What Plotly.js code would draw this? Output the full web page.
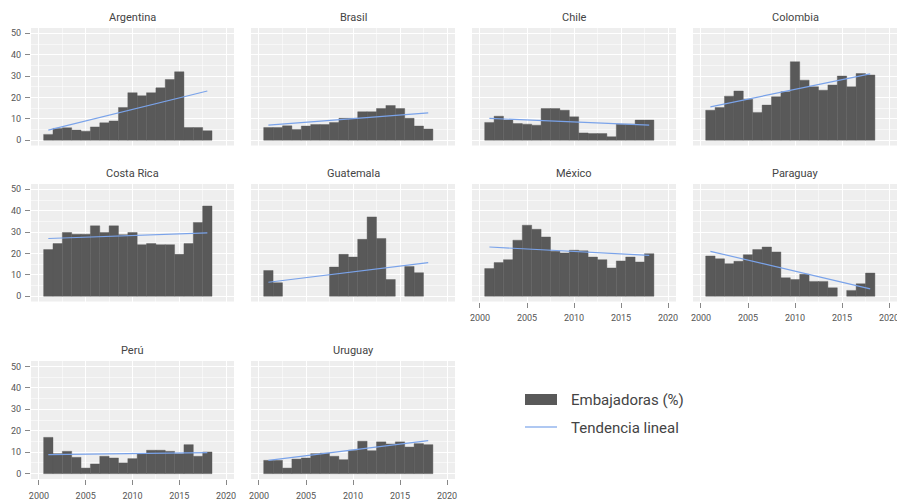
<!DOCTYPE html>
<html><head><meta charset="utf-8">
<script src="https://cdn.plot.ly/plotly-3.0.1.min.js"></script>
<style>html,body{margin:0;padding:0;background:#fff}#chart{width:897px;height:504px}</style>
</head><body><div id="chart"></div>
<script>
const years = [2001,2002,2003,2004,2005,2006,2007,2008,2009,2010,2011,2012,2013,2014,2015,2016,2017,2018];
const countries = ['Argentina','Brasil','Chile','Colombia','Costa Rica','Guatemala','México','Paraguay','Perú','Uruguay'];

const argentina = [2.7,5.5,5.8,4.7,4.2,6.2,8.1,9.0,15.3,22.2,20.8,22.2,24.5,28.4,32.0,5.9,5.9,4.4];
const brasil    = [5.9,5.9,6.7,5.0,6.6,7.3,7.3,8.3,10.2,10.2,13.3,13.3,14.8,16.2,14.8,10.2,6.6,5.2];
const chile     = [8.3,11.2,9.4,7.8,7.5,7.0,14.8,14.8,14.0,10.9,3.4,3.1,3.1,1.6,7.5,7.5,9.4,9.4];
const colombia  = [14.0,15.3,20.6,23.0,19.2,13.0,16.4,20.3,22.7,36.7,28.1,25.0,23.4,25.8,30.0,25.0,31.2,30.5];
const costaRica = [21.8,24.6,29.8,29.0,29.0,32.9,29.8,32.9,28.8,29.8,24.1,24.6,24.1,24.1,19.6,24.6,34.5,42.2];
const guatemala = [12.0,6.3,null,null,null,null,null,13.6,19.6,18.3,26.6,37.1,27.0,7.8,null,13.9,11.0,null];
const mexico    = [12.9,15.7,17.1,26.2,33.2,31.3,27.7,21.0,20.2,21.5,21.2,18.3,17.1,13.2,16.5,18.3,16.0,19.9];
const paraguay  = [18.8,17.5,15.2,16.3,19.4,21.8,23.0,20.7,8.6,7.8,10.2,6.9,6.9,3.9,null,2.7,5.8,10.8];
const peru      = [16.9,9.3,10.4,7.6,2.6,4.5,8.1,7.3,5.0,7.0,9.3,10.9,10.9,10.4,9.3,13.5,8.1,10.1];
const uruguay   = [6.2,6.2,2.6,6.8,7.3,9.3,9.6,8.1,6.5,10.9,15.1,10.7,14.8,13.8,14.8,12.4,14.0,13.5];

const trendYears = [2001, 2018];
const trendArgentina = [4.7, 23.0];
const trendBrasil    = [7.0, 12.8];
const trendChile     = [10.2, 7.0];
const trendColombia  = [15.6, 31.0];
const trendCostaRica = [27.0, 29.6];
const trendGuatemala = [6.5, 15.7];
const trendMexico    = [23.0, 19.1];
const trendParaguay  = [21.0, 3.4];
const trendPeru      = [8.9, 9.8];
const trendUruguay   = [6.2, 15.4];

const xTickVals = [2000, 2005, 2010, 2015, 2020];
const xTickText = ['2000', '2005', '2010', '2015', '2020'];
const yTickVals = [0, 10, 20, 30, 40, 50];
const yTickText = ['0', '10', '20', '30', '40', '50'];
const legendLabels = ['Embajadoras (%)', 'Tendencia lineal'];

const series = [argentina, brasil, chile, colombia, costaRica, guatemala, mexico, paraguay, peru, uruguay];
const trends = [trendArgentina, trendBrasil, trendChile, trendColombia, trendCostaRica, trendGuatemala, trendMexico, trendParaguay, trendPeru, trendUruguay];

const W = 897, H = 504;
const colX = [[31, 234], [251, 455], [472, 676], [693, 897]];
const rowY = [[28, 145.5], [184, 301.5], [361, 479]];
const barColor = '#595959';
const trendColor = '#7aa3ea';
const tickFont = {family: 'Roboto, sans-serif', size: 9, color: '#555'};

const data = [];
const layout = {
  width: W, height: H,
  margin: {l: 0, r: 0, t: 0, b: 0},
  paper_bgcolor: '#ffffff',
  plot_bgcolor: '#eeeeee',
  bargap: 0,
  showlegend: false,
  annotations: [],
  shapes: []
};

countries.forEach((name, i) => {
  const col = i % 4, row = Math.floor(i / 4);
  const sfx = i === 0 ? '' : String(i + 1);
  const xa = 'x' + sfx, ya = 'y' + sfx;
  data.push({
    type: 'bar', x: years, y: series[i], xaxis: xa, yaxis: ya,
    width: 1, marker: {color: barColor, line: {color: barColor, width: 0.4}},
    hoverinfo: 'x+y', name: legendLabels[0]
  });
  data.push({
    type: 'scatter', mode: 'lines', x: trendYears, y: trends[i], xaxis: xa, yaxis: ya,
    line: {color: trendColor, width: 1.2}, hoverinfo: 'skip', name: legendLabels[1]
  });
  const showX = (i >= 6);
  const showY = (col === 0);
  layout['xaxis' + sfx] = {
    domain: [colX[col][0] / W, colX[col][1] / W],
    anchor: ya,
    range: [1999.15, 2020.85],
    tickvals: xTickVals, ticktext: xTickText,
    showticklabels: showX,
    ticklabeloverflow: 'allow',
    ticks: showX ? 'outside' : '', ticklen: 5, tickcolor: '#888', tickwidth: 1,
    ticklabelstandoff: 3,
    tickfont: tickFont,
    showgrid: true, gridcolor: '#ffffff', gridwidth: 1,
    minor: {tickvals: [2002.5, 2007.5, 2012.5, 2017.5], showgrid: true, gridcolor: '#ffffff', gridwidth: 0.5},
    zeroline: false, showline: false, fixedrange: true
  };
  layout['yaxis' + sfx] = {
    domain: [1 - rowY[row][1] / H, 1 - rowY[row][0] / H],
    anchor: xa,
    range: [-2.5, 52.5],
    tickvals: yTickVals, ticktext: yTickText,
    showticklabels: showY,
    ticks: showY ? 'outside' : '', ticklen: 5, tickcolor: '#888', tickwidth: 1,
    ticklabelstandoff: 2,
    tickfont: tickFont,
    showgrid: true, gridcolor: '#ffffff', gridwidth: 1,
    minor: {tickvals: [5, 15, 25, 35, 45], showgrid: true, gridcolor: '#ffffff', gridwidth: 0.5},
    zeroline: false, showline: false, fixedrange: true
  };
  layout.annotations.push({
    text: name, xref: 'paper', yref: 'paper',
    x: (colX[col][0] + colX[col][1]) / 2 / W, y: 1 - rowY[row][0] / H,
    xanchor: 'center', yanchor: 'bottom', yshift: 2, showarrow: false,
    font: {family: 'Roboto, sans-serif', size: 11, color: '#444'}
  });
});

// Legend (drawn in paper space)
layout.shapes.push({type: 'rect', xref: 'paper', yref: 'paper',
  x0: 525 / W, x1: 557 / W, y0: 1 - 405 / H, y1: 1 - 394 / H,
  fillcolor: barColor, line: {width: 0}});
layout.shapes.push({type: 'line', xref: 'paper', yref: 'paper',
  x0: 525 / W, x1: 557 / W, y0: 1 - 427 / H, y1: 1 - 427 / H,
  line: {color: trendColor, width: 1.2}});
layout.annotations.push({text: legendLabels[0], xref: 'paper', yref: 'paper',
  x: 569 / W, y: 1 - 400 / H, xanchor: 'left', yanchor: 'middle', showarrow: false,
  font: {family: 'Roboto, sans-serif', size: 15, color: '#444'}});
layout.annotations.push({text: legendLabels[1], xref: 'paper', yref: 'paper',
  x: 569 / W, y: 1 - 428 / H, xanchor: 'left', yanchor: 'middle', showarrow: false,
  font: {family: 'Roboto, sans-serif', size: 15, color: '#444'}});

Plotly.newPlot('chart', data, layout, {staticPlot: true, displayModeBar: false});
</script>
</body></html>
